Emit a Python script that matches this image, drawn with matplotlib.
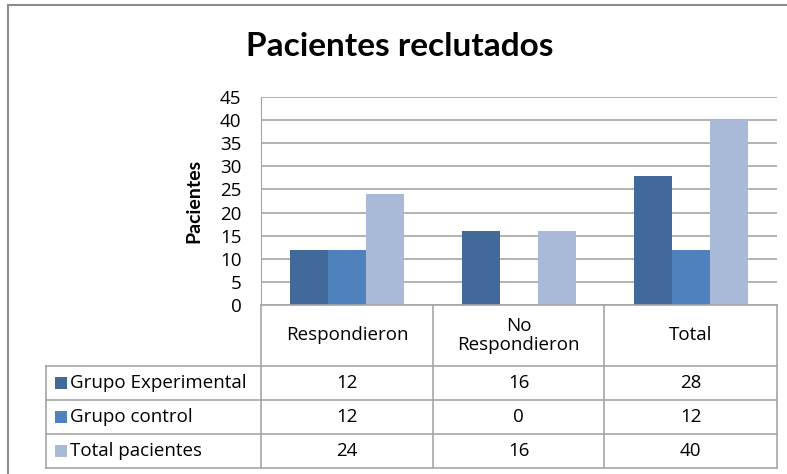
import matplotlib
matplotlib.use("Agg")
import matplotlib.pyplot as plt
from matplotlib.lines import Line2D
from matplotlib.patches import Rectangle

categories = ["Respondieron", "No\nRespondieron", "Total"]
series_names = ["Grupo Experimental", "Grupo control", "Total pacientes"]
grupo_experimental = [12, 16, 28]
grupo_control = [12, 0, 12]
total_pacientes = [24, 16, 40]
series_values = [grupo_experimental, grupo_control, total_pacientes]
colors = ["#41699A", "#4F81BD", "#A9B9D8"]
yticks = [0, 5, 10, 15, 20, 25, 30, 35, 40, 45]

W, H = 787, 474
plt.rcParams['font.family'] = ['Open Sans', 'DejaVu Sans']
FS = 13.5
fig = plt.figure(figsize=(W / 100, H / 100), dpi=100)

def fx(px):
    return px / W

def fy(py):
    return 1 - py / H

# outer frame (only top and left edges are inside the picture)
fig.add_artist(Line2D([fx(8), fx(8)], [fy(5), fy(480)], color="#8C8C8C", linewidth=1.5,
                      transform=fig.transFigure))
fig.add_artist(Line2D([fx(8), fx(790)], [fy(5), fy(5)], color="#8C8C8C", linewidth=1.5,
                      transform=fig.transFigure))

left, right, top, bottom = 261, 777, 97, 305
ax = fig.add_axes([fx(left), fy(bottom), fx(right - left), (bottom - top) / H])
ax.set_xlim(0, 3)
ax.set_ylim(0, 45)
bw = 0.22
for i, (vals, c) in enumerate(zip(series_values, colors)):
    xs = [k + 0.5 + (i - 1) * bw for k in range(len(categories))]
    ax.bar(xs, vals, width=bw, color=c, zorder=3)
ax.set_yticks(yticks)
ax.set_yticklabels([str(t) for t in yticks], fontsize=FS)
ax.set_xticks([])
ax.tick_params(axis='y', length=0, pad=14)
ax.grid(axis='y', color="#A6A6A6", linewidth=1.2, zorder=0)
for s in ["top", "right", "bottom"]:
    ax.spines[s].set_visible(False)
ax.spines["left"].set_color("#A6A6A6")
ax.set_ylabel("Pacientes", fontsize=14, fontweight="bold", labelpad=13,
              family=['Lato', 'DejaVu Sans'])

fig.text(fx(400), fy(46), "Pacientes reclutados", fontsize=24, fontweight="bold",
         ha="center", va="center", family=['Lato', 'DejaVu Sans'])

# data table
lc = "#A6A6A6"
col_x = [261, 433, 604, 777]
row_y = [305, 366, 400, 434, 468]
tl = 46

def hline(y, x0, x1):
    fig.add_artist(Line2D([fx(x0), fx(x1)], [fy(y), fy(y)], color=lc, linewidth=1.2,
                          transform=fig.transFigure))

def vline(x, y0, y1):
    fig.add_artist(Line2D([fx(x), fx(x)], [fy(y0), fy(y1)], color=lc, linewidth=1.2,
                          transform=fig.transFigure))

hline(row_y[0], col_x[0], col_x[-1])
for y in row_y[1:]:
    hline(y, tl, col_x[-1])
for x in col_x:
    vline(x, row_y[0], row_y[-1])
vline(tl, row_y[1], row_y[-1])

for j, cat in enumerate(categories):
    cx = (col_x[j] + col_x[j + 1]) / 2
    cy = (row_y[0] + row_y[1]) / 2
    fig.text(fx(cx), fy(cy), cat, fontsize=FS, ha="center", va="center", linespacing=1.1)

for i, (name, vals, c) in enumerate(zip(series_names, series_values, colors)):
    cy = (row_y[i + 1] + row_y[i + 2]) / 2
    fig.patches.append(Rectangle((fx(55), fy(cy + 6)), fx(12), 12 / H, transform=fig.transFigure,
                                 facecolor=c, edgecolor="none"))
    fig.text(fx(70), fy(cy), name, fontsize=FS, ha="left", va="center")
    for j, v in enumerate(vals):
        cx = (col_x[j] + col_x[j + 1]) / 2
        fig.text(fx(cx), fy(cy), str(v), fontsize=FS, ha="center", va="center")

fig.savefig("out.png", dpi=100)
